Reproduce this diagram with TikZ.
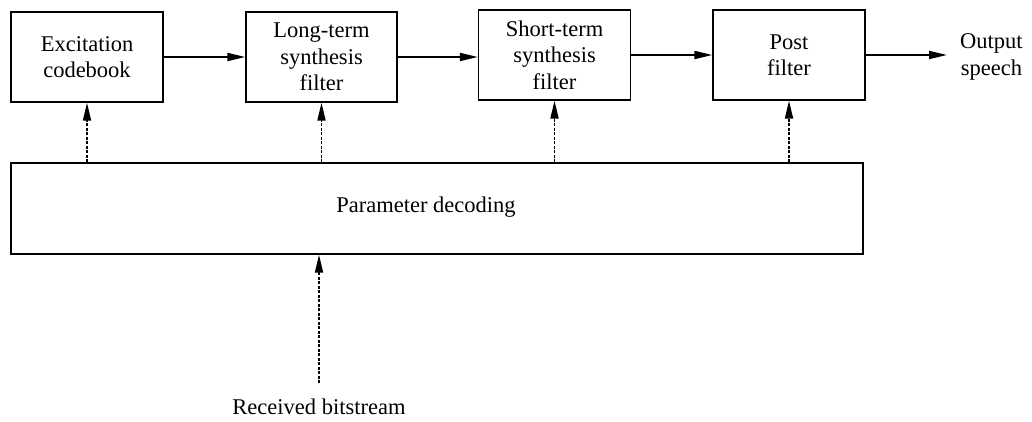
\documentclass[tikz,border=0pt]{standalone}
\usepackage{fontspec}
\setmainfont{Liberation Serif}
\usetikzlibrary{arrows.meta}
\begin{document}
\begin{tikzpicture}[x=1pt,y=-1pt,
  blk/.style={draw, line width=1.3pt, inner sep=0pt},
  lbl/.style={font=\fontsize{22.5}{26.5}\selectfont, align=center},
  sig/.style={line width=1.8pt, -{Triangle[length=18pt,width=8pt]}},
  ctl/.style={line width=1.8pt, dash pattern=on 3pt off 1.5pt, -{Triangle[length=18pt,width=8pt]}}]
\useasboundingbox (0,0) rectangle (1032,422);
\node[blk, minimum width=152pt, minimum height=90pt] (exc) at (87,57) {};
\node[lbl] at (exc.center) {Excitation\\codebook};
\node[blk, minimum width=151pt, minimum height=90pt] (ltf) at (321.5,57) {};
\node[lbl] at (ltf.center) {Long-term\\synthesis\\filter};
\node[blk, minimum width=152pt, minimum height=90pt] (stf) at (554.5,55) {};
\node[lbl] at (stf.center) {Short-term\\synthesis\\filter};
\node[blk, minimum width=152pt, minimum height=90pt] (pf) at (789,55) {};
\node[lbl] at (pf.center) {Post\\filter};
\node[lbl, anchor=west, inner xsep=0pt] (out) at (960,57) {Output\\speech};
\node[blk, minimum width=852pt, minimum height=91pt] (pd) at (437,208.5) {};
\node[lbl] at (426,207) {Parameter decoding};
\node[lbl] (rb) at (319,407) {Received bitstream};
\coordinate (rbtop) at (319,383);
\coordinate (outin) at (947,55);

\draw[sig] (exc.east) -- (ltf.west |- exc.east);
\draw[sig] (ltf.east) -- (stf.west |- ltf.east);
\draw[sig] (stf.east) -- (pf.west |- stf.east);
\draw[sig] (pf.east) -- (outin);

\draw[ctl] (pd.north -| exc.south) -- (exc.south);
\draw[ctl] (pd.north -| ltf.south) -- (ltf.south);
\draw[ctl] (pd.north -| stf.south) -- (stf.south);
\draw[ctl] (pd.north -| pf.south) -- (pf.south);
\draw[ctl] (rbtop) -- (rbtop |- pd.south);
\end{tikzpicture}
\end{document}
